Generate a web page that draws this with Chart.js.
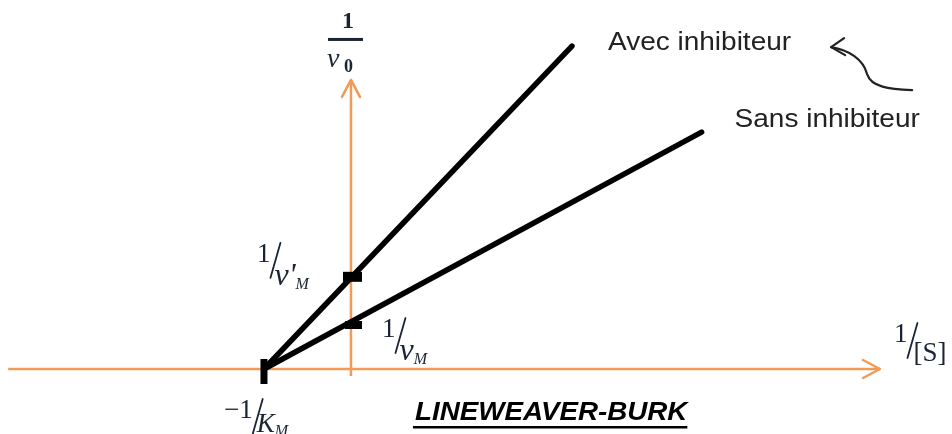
<!DOCTYPE html>
<html>
<head>
<meta charset="utf-8">
<title>Lineweaver-Burk</title>
<script src="https://cdn.jsdelivr.net/npm/chart.js@4"></script>
<style>
  html, body { margin: 0; background: #fff; }
  canvas { display: block; }
</style>
</head>
<body>
<canvas id="lbChart" width="952" height="434"></canvas>
<script>
// x = 1/[S] (unit: 1/Km), y = 1/v0 (unit: 1/vM)
const vertex = [-1, 0];                 // -1/Km on the x axis
const sansX = [-1, 4.03];
const sansY = [0, 5.04];
const avecX = [-1, 2.54];
const avecY = [0, 6.87];
const interceptY = [1.0, 1.94];         // 1/vM, 1/v'M
const xAxisSpan = [-3.94, 6.08];
const yAxisSpan = [-0.15, 6.15];
const lineLabels = ['Sans inhibiteur', 'Avec inhibiteur'];
const chartTitle = 'LINEWEAVER-BURK';

const ORANGE = '#F39A56';
const MATH = '#1a2434';
const SERIF = '"Liberation Serif"';

const pts = (xs, ys) => xs.map((x, i) => ({ x, y: ys[i] }));

// numerator, slash, italic denominator with subscript
function slashFrac(ctx, x, y, num, den, sub, opt = {}) {
  const size = opt.size || 27;
  const denSize = opt.denSize || 32;
  ctx.fillStyle = MATH;
  ctx.textBaseline = 'alphabetic';
  ctx.textAlign = 'left';
  ctx.font = `${size}px ${SERIF}`;
  ctx.fillText(num, x, y);
  const nw = ctx.measureText(num).width;
  ctx.strokeStyle = MATH;
  ctx.lineWidth = 1.8;
  ctx.beginPath();
  ctx.moveTo(x + nw + 10, y - 19);
  ctx.lineTo(x + nw, y + 16);
  ctx.stroke();
  const dx = x + nw + (opt.denGap || 4);
  const dy = y + (opt.denDrop || 23);
  ctx.font = `${opt.upright ? '' : 'italic '}${denSize}px ${SERIF}`;
  ctx.fillText(den, dx, dy);
  const dw = ctx.measureText(den).width;
  if (sub) {
    ctx.font = `italic 16px ${SERIF}`;
    ctx.fillText(sub, dx + dw, dy + 4);
  }
}

function wideText(ctx, text, x, y, sx) {
  ctx.save();
  ctx.translate(x, y);
  ctx.scale(sx, 1);
  ctx.fillText(text, 0, 0);
  const w = ctx.measureText(text).width * sx;
  ctx.restore();
  return w;
}

const decor = {
  id: 'lbDecor',
  afterDatasetsDraw(chart) {
    const { ctx, scales: { x, y } } = chart;
    const px = v => x.getPixelForValue(v);
    const py = v => y.getPixelForValue(v);
    ctx.save();

    // axis arrowheads
    ctx.strokeStyle = ORANGE;
    ctx.lineWidth = 2.5;
    ctx.lineCap = 'round';
    ctx.lineJoin = 'round';
    const hx = px(xAxisSpan[1]), hy = py(0);
    ctx.beginPath();
    ctx.moveTo(hx - 17, hy - 9); ctx.lineTo(hx, hy); ctx.lineTo(hx - 17, hy + 9);
    ctx.stroke();
    const ax = px(0), ay = py(yAxisSpan[1]);
    ctx.beginPath();
    ctx.moveTo(ax - 9, ay + 17); ctx.lineTo(ax, ay); ctx.lineTo(ax + 9, ay + 17);
    ctx.stroke();

    // black markers on the axes
    ctx.fillStyle = '#000';
    const kx = px(vertex[0]), ky = py(vertex[1]);
    ctx.fillRect(kx - 3.5, ky - 10, 7, 25);
    const t1 = py(interceptY[1]);
    ctx.fillRect(ax - 8, t1 - 6, 19, 10);
    const t0 = py(interceptY[0]);
    ctx.fillRect(ax - 6, t0 - 1, 17, 8);

    // axis and intercept labels
    slashFrac(ctx, ax - 94, t1 - 16, '1', 'v\'', 'M');
    slashFrac(ctx, ax + 31, t0 + 15, '1', 'v', 'M');
    slashFrac(ctx, hx + 14, hy - 27, '1', '[S]', null, { denSize: 27, upright: true, denGap: 6, denDrop: 19 });
    slashFrac(ctx, kx - 40, ky + 49, '−1', 'K', 'M', { denSize: 27, denDrop: 14 });

    // 1/v0 above the y axis
    ctx.fillStyle = MATH;
    ctx.textAlign = 'center';
    ctx.font = `bold 24px ${SERIF}`;
    ctx.fillText('1', ax - 3, ay - 52);
    ctx.fillRect(ax - 23, ay - 42, 35, 3);
    ctx.textAlign = 'left';
    ctx.font = `italic 28px ${SERIF}`;
    ctx.fillText('v', ax - 24, ay - 13);
    ctx.font = `bold 18px ${SERIF}`;
    ctx.fillText('0', ax - 7, ay - 8);

    // line names
    ctx.fillStyle = '#222';
    ctx.font = '25px "Liberation Sans"';
    const aw = wideText(ctx, lineLabels[1], px(avecX[1]) + 36, py(avecY[1]) + 4, 1.12);
    wideText(ctx, lineLabels[0], px(sansX[1]) + 33, py(sansY[1]) - 5, 1.12);

    // curved pointer back to "Avec inhibiteur"
    const tx = px(avecX[1]) + 36 + aw + 40, ty = py(avecY[1]) + 1;
    ctx.strokeStyle = '#222';
    ctx.lineWidth = 2.2;
    ctx.beginPath();
    ctx.moveTo(tx + 81, ty + 43);
    ctx.bezierCurveTo(tx + 58, ty + 42, tx + 40, ty + 40, tx + 36, ty + 27);
    ctx.bezierCurveTo(tx + 32, ty + 12, tx + 18, ty + 3, tx, ty);
    ctx.stroke();
    ctx.beginPath();
    ctx.moveTo(tx + 13, ty - 9); ctx.lineTo(tx, ty); ctx.lineTo(tx + 14, ty + 8);
    ctx.stroke();

    // title, underlined
    ctx.fillStyle = '#000';
    ctx.font = 'italic bold 25px "Liberation Sans"';
    const tw = wideText(ctx, chartTitle, 415, 420, 1.11);
    ctx.fillRect(413, 426, tw + 2, 2.5);

    ctx.restore();
  }
};

new Chart(document.getElementById('lbChart'), {
  type: 'scatter',
  data: {
    datasets: [
      { label: lineLabels[1], data: pts(avecX, avecY), showLine: true, borderColor: '#000', borderWidth: 5.5, borderCapStyle: 'round', pointRadius: 0 },
      { label: lineLabels[0], data: pts(sansX, sansY), showLine: true, borderColor: '#000', borderWidth: 5.5, borderCapStyle: 'round', pointRadius: 0 },
      { label: '1/[S]', data: pts(xAxisSpan, [0, 0]), showLine: true, borderColor: ORANGE, borderWidth: 2.5, pointRadius: 0 },
      { label: '1/v0', data: pts([0, 0], yAxisSpan), showLine: true, borderColor: ORANGE, borderWidth: 2.5, pointRadius: 0 }
    ]
  },
  options: {
    responsive: false,
    animation: false,
    layout: { padding: 0 },
    plugins: { legend: { display: false }, tooltip: { enabled: false } },
    scales: {
      x: { type: 'linear', display: false, min: -4.034, max: 6.908 },
      y: { type: 'linear', display: false, min: -1.383, max: 7.851 }
    }
  },
  plugins: [decor]
});
</script>
</body>
</html>
